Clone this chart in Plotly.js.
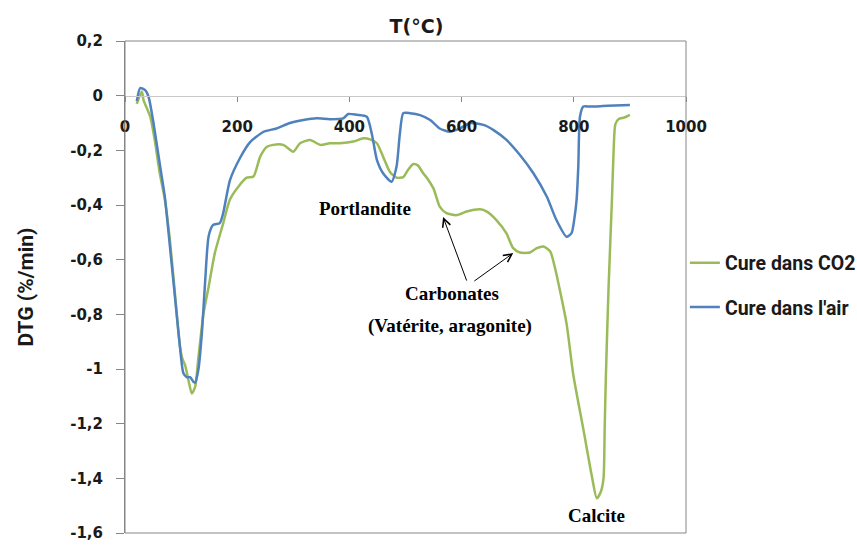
<!DOCTYPE html>
<html>
<head>
<meta charset="utf-8">
<script src="https://cdn.plot.ly/plotly-3.0.1.min.js"></script>
<style>html,body{margin:0;padding:0;background:#fff;}#chart{width:857px;height:547px;}</style>
</head>
<body>
<div id="chart"></div>
<script>
// ---- Data ----
const seriesNames = ["Cure dans CO2", "Cure dans l'air"];

const tempCO2 = [21,30,33,45,53,62,71,80,89,98,103,107,113,119,125,131,140,149,160,175,187,202,217,229,241,253,264,282,300,312,330,348,365,383,407,425,437,449,460,472,484,496,505,514,522,532,538,550,561,573,591,609,633,645,662,680,692,704,722,734,746,758,766,787,799,817,832,841,848,853,855,857,862,868,871,874,880,890,900];
const dtgCO2  = [-0.03,0.015,-0.016,-0.077,-0.162,-0.284,-0.38,-0.528,-0.723,-0.918,-0.967,-0.985,-1.04,-1.09,-1.065,-0.955,-0.796,-0.70,-0.577,-0.467,-0.38,-0.333,-0.30,-0.296,-0.223,-0.187,-0.18,-0.18,-0.205,-0.174,-0.162,-0.18,-0.174,-0.174,-0.168,-0.156,-0.16,-0.174,-0.223,-0.278,-0.30,-0.298,-0.27,-0.25,-0.255,-0.285,-0.30,-0.34,-0.406,-0.43,-0.437,-0.424,-0.416,-0.424,-0.455,-0.504,-0.558,-0.574,-0.574,-0.558,-0.552,-0.57,-0.626,-0.833,-1.02,-1.22,-1.39,-1.473,-1.45,-1.40,-1.22,-1.04,-0.70,-0.38,-0.20,-0.105,-0.085,-0.08,-0.07];

const tempAir = [21,27,36,42,50,62,71,80,89,98,104,110,116,122,125,131,137,143,149,157,169,175,187,205,223,247,270,294,318,342,365,389,398,413,431,440,449,460,475,484,490,496,508,526,544,561,579,597,615,639,657,680,704,728,752,769,787,796,801,805,808,811,817,829,860,900];
const dtgAir  = [-0.02,0.028,0.02,-0.004,-0.09,-0.25,-0.37,-0.55,-0.735,-0.92,-1.015,-1.03,-1.03,-1.047,-1.05,-1.0,-0.87,-0.675,-0.515,-0.473,-0.466,-0.43,-0.31,-0.228,-0.17,-0.132,-0.12,-0.10,-0.089,-0.083,-0.086,-0.083,-0.067,-0.07,-0.077,-0.14,-0.235,-0.284,-0.315,-0.26,-0.138,-0.064,-0.064,-0.071,-0.089,-0.12,-0.132,-0.12,-0.10,-0.107,-0.126,-0.162,-0.217,-0.284,-0.37,-0.455,-0.516,-0.503,-0.45,-0.38,-0.26,-0.077,-0.04,-0.04,-0.037,-0.034];

const xTickVals = [0,200,400,600,800,1000];
const yTickVals = [0.2,0,-0.2,-0.4,-0.6,-0.8,-1,-1.2,-1.4,-1.6];
const yTickText = ["0,2","0","-0,2","-0,4","-0,6","-0,8","-1","-1,2","-1,4","-1,6"];

const labelPortlandite = "Portlandite";
const labelCarbonates = "Carbonates";
const labelVaterite = "(Vatérite, aragonite)";
const labelCalcite = "Calcite";

// ---- Chart ----
const tickFont = {family: "DejaVu Sans", size: 15, color: "#1a1a1a", weight: "bold"};
const annFont = {family: "Liberation Serif", size: 19, color: "#000", weight: "bold"};

const traces = [
  {x: tempCO2, y: dtgCO2, type: "scatter", mode: "lines", name: seriesNames[0], legendgroup: "g1",
   line: {color: "#9bbb59", width: 2.5, shape: "spline", smoothing: 0.6}},
  {x: tempAir, y: dtgAir, type: "scatter", mode: "lines", name: seriesNames[1], legendgroup: "g2",
   line: {color: "#4f81bd", width: 2.5, shape: "spline", smoothing: 0.6}}
];

const layout = {
  width: 857, height: 547,
  margin: {l: 125, r: 171, t: 41, b: 14, autoexpand: false},
  paper_bgcolor: "#ffffff", plot_bgcolor: "#ffffff",
  title: {text: "T(°C)", x: 0.486, xref: "container", xanchor: "center", y: 0.951, yref: "container", yanchor: "middle",
          font: {family: "DejaVu Sans", size: 19, color: "#1a1a1a", weight: "bold"}},
  xaxis: {range: [0, 1000], anchor: "free", position: 1.6/1.8, tickvals: xTickVals, ticks: "outside", ticklen: 5,
          tickcolor: "#868686", showline: true, linecolor: "#c8c8c8", linewidth: 1, showgrid: false, zeroline: false,
          tickfont: tickFont, ticklabelstandoff: 12},
  yaxis: {range: [-1.6, 0.2], tickvals: yTickVals, ticktext: yTickText, ticks: "outside", ticklen: 8,
          tickcolor: "#868686", showline: true, linecolor: "#868686", linewidth: 1, showgrid: false, zeroline: false,
          tickfont: tickFont, ticklabelstandoff: 10,
          title: {text: "DTG (%/min)", standoff: 30, font: {family: "Roboto", size: 21, color: "#1a1a1a", weight: "bold"}}},
  showlegend: true,
  legend: {x: 0.998, xanchor: "left", y: 0.504, yanchor: "middle", traceorder: "grouped", tracegroupgap: 16,
           bgcolor: "rgba(0,0,0,0)", font: {family: "Roboto", size: 19.5, color: "#1a1a1a", weight: "bold"}},
  shapes: [{type: "rect", xref: "paper", yref: "paper", x0: 0, x1: 1, y0: 0, y1: 1,
            line: {color: "#868686", width: 1}}],
  annotations: [
    {x: 428, y: -0.411, xref: "x", yref: "y", text: labelPortlandite, showarrow: false, font: annFont},
    {x: 583, y: -0.722, xref: "x", yref: "y", text: labelCarbonates, showarrow: false, font: annFont},
    {x: 579, y: -0.843, xref: "x", yref: "y", text: labelVaterite, showarrow: false, font: annFont},
    {x: 841, y: -1.536, xref: "x", yref: "y", text: labelCalcite, showarrow: false, font: annFont},
    {x: 567, y: -0.444, xref: "x", yref: "y", ax: 610, ay: -0.682, axref: "x", ayref: "y", text: "",
     showarrow: true, arrowhead: 5, arrowsize: 1.6, arrowwidth: 1, arrowcolor: "#000"},
    {x: 692, y: -0.576, xref: "x", yref: "y", ax: 620, ay: -0.682, axref: "x", ayref: "y", text: "",
     showarrow: true, arrowhead: 5, arrowsize: 1.6, arrowwidth: 1, arrowcolor: "#000"}
  ]
};

Plotly.newPlot("chart", traces, layout, {staticPlot: true, displayModeBar: false});
</script>
</body>
</html>
